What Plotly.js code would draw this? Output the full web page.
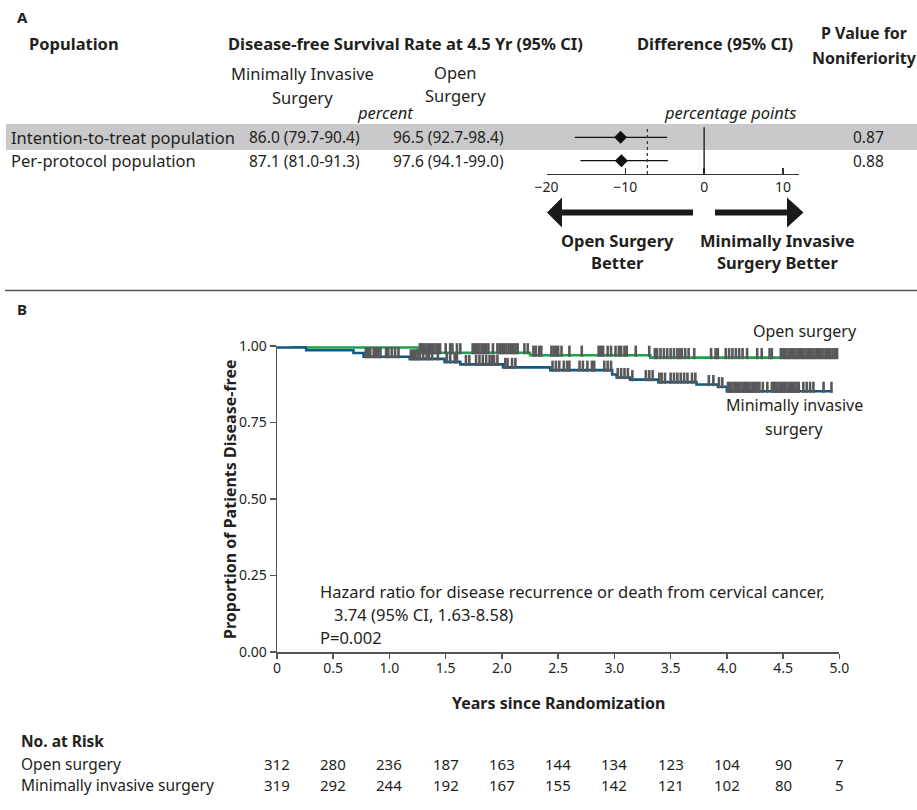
<!DOCTYPE html>
<html>
<head>
<meta charset="utf-8">
<script src="https://cdn.plot.ly/plotly-3.0.1.min.js"></script>
<style>html,body{margin:0;padding:0;background:#fff;}#chart{width:917px;height:810px;}</style>
</head>
<body>
<div id="chart"></div>
<script>
// ---------------- Data ----------------
// Panel A
const populations = ['Intention-to-treat population', 'Per-protocol population'];
const misEst = [86.0, 87.1], misLo = [79.7, 81.0], misHi = [90.4, 91.3];
const openEst = [96.5, 97.6], openLo = [92.7, 94.1], openHi = [98.4, 99.0];
const diffEst = [-10.6, -10.5], diffLo = [-16.4, -15.7], diffHi = [-4.7, -4.6];
const pValues = ['0.87', '0.88'];
const rowPos = [2, 1];
const margin = -7.2;
const diffTicks = [-20, -10, 0, 10];

// Panel B: Kaplan-Meier step data (years, proportion disease-free)
const openT = [0.04, 0.26, 1.25, 2.25, 3.32];
const openS = [1.008, 0.995, 0.978, 0.970, 0.962];
const openEnd = 4.99;
const misT = [0, 0.26, 0.68, 0.77, 1.18, 1.49, 1.63, 2.01, 2.43, 2.98, 3.02, 3.14, 3.39, 3.73, 3.92, 4.00];
const misS = [0.995, 0.986, 0.977, 0.965, 0.958, 0.948, 0.940, 0.930, 0.921, 0.907, 0.897, 0.890, 0.882, 0.874, 0.867, 0.852];
const misEnd = 4.94;

// censoring times
const openCens = [0.02,0.04,0.06,0.08,0.10,0.12,0.14,0.16,0.18,0.20,0.25,0.28,0.34,0.40,0.43,0.45,
  0.48,0.50,0.52,0.54,0.56,0.58,0.60,0.62,0.64,0.66,0.72,0.74,0.76,0.78,0.80,0.82,0.84,0.86,0.90,
  0.92,0.94,0.96,0.98,1.00,1.02,1.04,1.06,1.08,1.10,1.13,1.27,1.29,1.31,1.33,1.35,1.37,1.39,1.41,1.43,1.45,1.50,1.54,
  1.56,1.60,1.63,1.74,1.76,1.78,1.80,1.82,1.84,1.86,1.88,1.92,1.96,1.98,2.00,2.02,2.04,2.06,2.08,2.10,2.12,2.14,
  2.20,2.23,2.28,2.30,2.33,2.35,2.44,2.46,2.48,2.50,2.53,2.60,2.71,2.86,2.88,2.90,2.94,2.97,3.01,3.04,3.06,3.09,3.11,
  3.19,3.31,3.36,3.38,3.41,3.44,3.47,3.50,3.53,3.56,3.58,3.60,3.63,3.66,3.71,3.86,3.90,3.92,3.99,4.02,4.05,4.08,4.11,
  4.14,4.18,4.27,4.31,4.38,4.40,4.48,4.50,4.52,4.54,4.56,4.58,4.60,4.62,4.64,4.66,4.68,4.70,4.72,4.74,4.76,4.78,
  4.80,4.82,4.84,4.86,4.88,4.90,4.92,4.94,4.96,4.98];
const misCens = [0.79,0.81,0.83,0.86,0.88,0.90,0.92,0.97,0.99,1.02,1.05,1.08,1.19,1.21,1.23,1.25,1.27,1.30,1.33,1.35,
  1.38,1.43,1.51,1.54,1.58,1.60,1.68,1.71,1.77,1.80,1.83,1.86,1.89,1.91,1.93,1.96,2.03,2.05,2.09,2.12,
  2.45,2.48,2.51,2.55,2.58,2.60,2.69,2.72,2.76,2.80,2.82,2.91,2.94,2.97,3.03,3.06,3.09,3.12,3.16,3.28,3.31,3.34,
  3.40,3.42,3.45,3.50,3.53,3.56,3.59,3.62,3.65,3.69,3.72,3.84,3.88,3.93,3.96,
  4.01,4.03,4.05,4.07,4.09,4.11,4.13,4.15,4.17,4.19,4.21,4.23,4.25,4.27,4.29,4.32,4.36,4.40,4.42,4.44,4.46,4.48,
  4.50,4.52,4.54,4.56,4.58,4.60,4.62,4.64,4.68,4.71,4.74,4.77,4.86,4.93];

// Number at risk
const riskTimes = [0, 0.5, 1, 1.5, 2, 2.5, 3, 3.5, 4, 4.5, 5];
const xTickText = ['0', '0.5', '1.0', '1.5', '2.0', '2.5', '3.0', '3.5', '4.0', '4.5', '5.0'];
const openRisk = [312, 280, 236, 187, 163, 144, 134, 123, 104, 90, 7];
const misRisk = [319, 292, 244, 192, 167, 155, 142, 121, 102, 80, 5];
const yTicks = [0, 0.25, 0.5, 0.75, 1];
const yTickText = ['0.00', '0.25', '0.50', '0.75', '1.00'];

// ---------------- Helpers ----------------
const W = 917, H = 810;
const px = x => x / W;
const py = y => 1 - y / H;
const FONT = 'Noto Sans, sans-serif';
const INK = '#231f20';
const GREEN = '#1ba34b', BLUE = '#0f5a80', CENS = '#58585a';

function kmPath(t, s, tEnd, ramp) {
  const xs = [t[0]], ys = [s[0]];
  for (let i = 1; i < t.length; i++) {
    if (i === 1 && ramp) { xs.push(t[1]); ys.push(s[1]); continue; }
    xs.push(t[i]); ys.push(s[i - 1]);
    xs.push(t[i]); ys.push(s[i]);
  }
  xs.push(tEnd); ys.push(s[s.length - 1]);
  return { xs, ys };
}
function sAt(t, s, x) { let v = s[0]; for (let i = 0; i < t.length; i++) if (t[i] <= x) v = s[i]; return v; }

function txt(text, x, y, size, anchor, extra) {
  return Object.assign({
    text: text, x: px(x), y: py(y), xref: 'paper', yref: 'paper', showarrow: false,
    xanchor: anchor || 'left', yanchor: 'middle',
    font: { family: FONT, size: size || 15, color: INK }
  }, extra || {});
}

// ---------------- Traces ----------------
const openPath = kmPath(openT, openS, openEnd, true);
const misPath = kmPath(misT, misS, misEnd, false);

const traces = [
  { x: openCens, y: openCens.map(c => sAt(openT, openS, c)), xaxis: 'x', yaxis: 'y2', type: 'scatter', mode: 'markers',
    marker: { symbol: 'line-ns', size: 8, line: { width: 2.6, color: CENS } }, cliponaxis: false, hoverinfo: 'skip' },
  { x: misCens, y: misCens.map(c => sAt(misT, misS, c)), xaxis: 'x', yaxis: 'y2', type: 'scatter', mode: 'markers',
    marker: { symbol: 'line-ns', size: 8, line: { width: 2.6, color: CENS } }, cliponaxis: false, hoverinfo: 'skip' },
  { x: openPath.xs, y: openPath.ys, xaxis: 'x', yaxis: 'y', type: 'scatter', mode: 'lines',
    line: { color: GREEN, width: 2.6 }, cliponaxis: false, name: 'Open surgery' },
  { x: misPath.xs, y: misPath.ys, xaxis: 'x', yaxis: 'y', type: 'scatter', mode: 'lines',
    line: { color: BLUE, width: 2.6 }, cliponaxis: false, name: 'Minimally invasive surgery' },
  { x: diffEst, y: rowPos, xaxis: 'x2', yaxis: 'y3', type: 'scatter', mode: 'markers',
    marker: { symbol: 'diamond', size: 10, color: '#111' },
    error_x: { type: 'data', symmetric: false,
      array: diffEst.map((d, i) => diffHi[i] - d), arrayminus: diffEst.map((d, i) => d - diffLo[i]),
      width: 0, thickness: 1.3, color: '#111' },
    cliponaxis: false }
];

// ---------------- Annotations ----------------
const ann = [];
const HB = 16.5, TX = 16.5, NUM = 15.5;
// Panel A
ann.push(txt('<b>A</b>', 22, 17, 15, 'center'));
ann.push(txt('<b>Population</b>', 27, 43.5, HB, 'left'));
ann.push(txt('<b>Disease-free Survival Rate at 4.5 Yr (95% CI)</b>', 405, 43.5, HB, 'center'));
ann.push(txt('<b>Difference (95% CI)</b>', 715, 43.5, HB, 'center'));
ann.push(txt('<b>P Value for</b>', 864, 33, 16, 'center'));
ann.push(txt('<b>Noniferiority</b>', 864, 58, 16, 'center'));
ann.push(txt('Minimally Invasive', 302.5, 73, TX, 'center'));
ann.push(txt('Surgery', 302.5, 97, TX, 'center'));
ann.push(txt('Open', 455, 72, TX, 'center'));
ann.push(txt('Surgery', 455, 95.5, TX, 'center'));
ann.push(txt('<i>percent</i>', 385, 112.5, TX, 'center'));
ann.push(txt('<i>percentage points</i>', 730, 112, TX, 'center'));
populations.forEach((p, i) => {
  const yy = i === 0 ? 137 : 161;
  ann.push(txt(p, 9, yy, TX, 'left'));
  ann.push(txt(misEst[i].toFixed(1) + ' (' + misLo[i].toFixed(1) + '-' + misHi[i].toFixed(1) + ')', 247, yy, NUM, 'left'));
  ann.push(txt(openEst[i].toFixed(1) + ' (' + openLo[i].toFixed(1) + '-' + openHi[i].toFixed(1) + ')', 391, yy, NUM, 'left'));
  ann.push(txt(pValues[i], 868, yy, NUM, 'center'));
});
ann.push(txt('<b>Open Surgery</b>', 617, 240, HB, 'center'));
ann.push(txt('<b>Better</b>', 617, 263, HB, 'center'));
ann.push(txt('<b>Minimally Invasive</b>', 777, 240, HB, 'center'));
ann.push(txt('<b>Surgery Better</b>', 777, 263, HB, 'center'));

// Panel B
ann.push(txt('<b>B</b>', 22, 309, 15, 'center'));
ann.push(txt('Open surgery', 805, 331, 16, 'center'));
ann.push(txt('Minimally invasive', 794, 405, 16, 'center'));
ann.push(txt('surgery', 794, 429, 16, 'center'));
ann.push(txt('Hazard ratio for disease recurrence or death from cervical cancer,', 318, 591, 16.5, 'left'));
ann.push(txt('3.74 (95% CI, 1.63-8.58)', 332, 614, 16.5, 'left'));
ann.push(txt('P=0.002', 318, 637, 16.5, 'left'));
ann.push(txt('<b>Proportion of Patients Disease-free</b>', 230, 499, 16, 'center', { textangle: -90 }));
ann.push(txt('<b>Years since Randomization</b>', 558, 703, 16, 'center'));
ann.push(txt('<b>No. at Risk</b>', 19, 741, 15.5, 'left'));
ann.push(txt('Open surgery', 19, 764, 15.5, 'left'));
ann.push(txt('Minimally invasive surgery', 19, 785, 15.5, 'left'));
riskTimes.forEach((t, i) => {
  ann.push({ text: String(openRisk[i]), x: t, xref: 'x', y: py(764), yref: 'paper', showarrow: false,
    xanchor: 'center', yanchor: 'middle', font: { family: FONT, size: 15, color: INK } });
  ann.push({ text: String(misRisk[i]), x: t, xref: 'x', y: py(785), yref: 'paper', showarrow: false,
    xanchor: 'center', yanchor: 'middle', font: { family: FONT, size: 15, color: INK } });
});

// ---------------- Shapes ----------------
function arrowPath(tipX, baseX, endX, cy, headHalf, shaftHalf) {
  const pts = [[tipX, cy], [baseX, cy - headHalf], [baseX, cy - shaftHalf], [endX, cy - shaftHalf],
               [endX, cy + shaftHalf], [baseX, cy + shaftHalf], [baseX, cy + headHalf]];
  return 'M ' + pts.map(p => px(p[0]) + ',' + py(p[1])).join(' L ') + ' Z';
}
const shapes = [
  { type: 'rect', xref: 'paper', yref: 'paper', x0: px(6), x1: px(917), y0: py(150), y1: py(124),
    fillcolor: '#c9c9cb', line: { width: 0 }, layer: 'below' },
  { type: 'line', xref: 'paper', yref: 'paper', x0: px(5), x1: px(917), y0: py(290.5), y1: py(290.5),
    line: { color: '#555', width: 1.6 } },
  { type: 'line', xref: 'x2', yref: 'y3 domain', x0: 0, x1: 0, y0: 0, y1: 1, line: { color: '#222', width: 1.4 } },
  { type: 'line', xref: 'x2', yref: 'y3 domain', x0: margin, x1: margin, y0: 0, y1: 1,
    line: { color: '#333', width: 1.2, dash: 'dot' } },
  { type: 'path', xref: 'paper', yref: 'paper', path: arrowPath(547, 562, 693, 212.5, 15, 3),
    fillcolor: '#1a1a1a', line: { width: 0 } },
  { type: 'path', xref: 'paper', yref: 'paper', path: arrowPath(803.5, 787, 715, 212.5, 15, 3),
    fillcolor: '#1a1a1a', line: { width: 0 } }
];

// ---------------- Layout ----------------
const axisCommon = { showgrid: false, zeroline: false, showline: true, linecolor: '#555', linewidth: 1.5,
  ticks: 'outside', ticklen: 6, tickcolor: '#555', tickwidth: 1.5,
  tickfont: { family: FONT, size: 14, color: INK }, fixedrange: true };

const layout = {
  width: W, height: H,
  margin: { l: 0, r: 0, t: 0, b: 0 },
  paper_bgcolor: '#fff', plot_bgcolor: 'rgba(0,0,0,0)',
  showlegend: false,
  font: { family: FONT, color: INK },
  xaxis: Object.assign({}, axisCommon, { domain: [px(277), px(839.3)], range: [0, 5], anchor: 'y',
    tickvals: riskTimes, ticktext: xTickText, ticklen: 5, ticklabelstandoff: -2 }),
  yaxis: Object.assign({}, axisCommon, { domain: [py(652), py(346)], range: [0, 1], anchor: 'x',
    tickvals: yTicks, ticktext: yTickText }),
  yaxis2: { overlaying: 'y', range: [-0.013, 0.987], visible: false, fixedrange: true, anchor: 'x' },
  xaxis2: Object.assign({}, axisCommon, { domain: [px(546.5), px(798.7)], range: [-20, 12], anchor: 'y3',
    tickvals: diffTicks, ticks: 'inside', linecolor: '#333', tickcolor: '#333', linewidth: 1.4 }),
  yaxis3: { domain: [py(174), py(127.3)], range: [0.432, 2.427], visible: false, fixedrange: true, anchor: 'x2' },
  annotations: ann,
  shapes: shapes
};

Plotly.newPlot('chart', traces, layout, { displayModeBar: false, staticPlot: true });
</script>
</body>
</html>
